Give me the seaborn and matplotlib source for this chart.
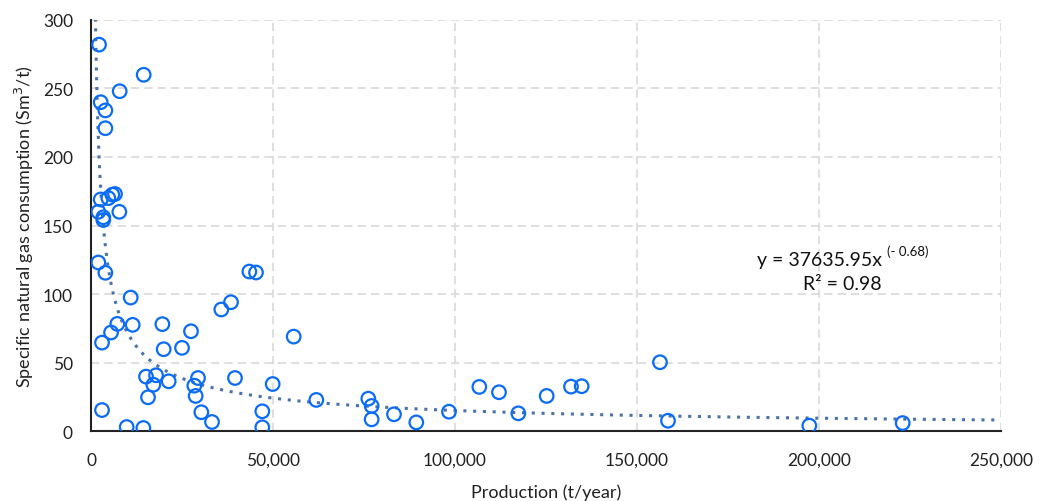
import numpy as np
import pandas as pd
import matplotlib
matplotlib.use("Agg")
import matplotlib.pyplot as plt
from matplotlib.ticker import FuncFormatter
import seaborn as sns

# data
produccion = [2200, 14470, 7880, 2660, 3940, 3940, 2660, 4760, 5860, 6590,
              2010, 7780, 3380, 3380, 2010, 3940, 43500, 45330, 10900, 38460,
              35800, 7230, 11450, 19600, 5500, 27470, 3020, 19960, 25000, 55680,
              15110, 17860, 17120, 21340, 29400, 28380, 39560, 49910, 15660, 28750,
              3020, 30310, 33240, 47060, 47060, 9800, 14380, 61900, 76180, 77100,
              77100, 83240, 89370, 98350, 106680, 112090, 117400, 125190, 131870, 134800,
              156320, 158520, 197350, 223000]
consumo = [282, 260, 248, 240, 234, 221, 169, 170, 172.5, 173,
           160, 160, 156, 154, 123, 115.5, 116.4, 115.7, 97.4, 94,
           88.7, 78.2, 77.5, 78, 71.9, 72.8, 64.5, 59.7, 60.7, 68.9,
           39.7, 40.7, 33.8, 36.3, 38.7, 33.1, 38.7, 34.3, 24.6, 25.6,
           15.3, 13.7, 6.6, 14.4, 2.7, 2.9, 2.2, 22.7, 23.6, 18.3,
           8.5, 12.2, 6.3, 14.1, 32.2, 28.3, 12.9, 25.6, 32.4, 32.7,
           50.2, 7.5, 3.9, 5.8]

coef_a = 37635.95
coef_b = -0.68
r2 = 0.98

df = pd.DataFrame({"Produccion": produccion, "Consumo": consumo})

# curva de tendencia potencial y = a * x^b
x_tend = np.linspace(1000, 250000, 2000)
tend = pd.DataFrame({"x": x_tend, "y": coef_a * x_tend ** coef_b})

sns.set_style("white")
plt.rcParams["font.family"] = ["Lato", "DejaVu Sans"]

fig = plt.figure(figsize=(10.51, 5.02), dpi=100)
ax = fig.add_axes([0.0866, 0.1394, 0.8658, 0.8188])

sns.lineplot(data=tend, x="x", y="y", ax=ax, color="#4a72a8", linestyle=(0, (1, 2.2)),
             linewidth=2.2, zorder=2)
sns.scatterplot(data=df, x="Produccion", y="Consumo", ax=ax, marker="o", s=95,
                facecolor="none", edgecolor="#0a6cf5", linewidth=1.6, zorder=3)

ax.set_xlim(0, 250000)
ax.set_ylim(0, 300)
ax.set_xticks(range(0, 250001, 50000))
ax.set_yticks(range(0, 301, 50))
ax.xaxis.set_major_formatter(FuncFormatter(lambda v, p: f"{int(v):,}"))
ax.grid(True, color="#d9d9d9", linestyle=(0, (5, 3)), linewidth=1.2)
ax.set_axisbelow(True)
for s in ["top", "right"]:
    ax.spines[s].set_visible(False)
for s in ["left", "bottom"]:
    ax.spines[s].set_color("#222222")
    ax.spines[s].set_linewidth(1.5)
ax.tick_params(axis="both", length=0, labelsize=12.5, colors="#222222")
ax.tick_params(axis="x", pad=15)
ax.tick_params(axis="y", pad=13)

ax.set_xlabel("Production (t/year)", fontsize=13, color="#222222", labelpad=11)
ax.set_ylabel("Specific natural gas consumption (Sm$^3$/t)", fontsize=13,
              color="#222222", labelpad=5)

# ecuación y R²
eq = ax.text(0.801, 0.418, f"y = {coef_a}x", transform=ax.transAxes,
             ha="center", va="center", fontsize=14, color="#111111")
ax.annotate(f"(- {abs(coef_b)})", xy=(1, 0.62), xycoords=eq, xytext=(3, 0),
            textcoords="offset points", ha="left", va="bottom", fontsize=9.5,
            color="#111111")
ax.text(0.826, 0.36, f"R² = {r2}", transform=ax.transAxes,
        ha="center", va="center", fontsize=14, color="#111111")

fig.savefig("out.png", dpi=100)
